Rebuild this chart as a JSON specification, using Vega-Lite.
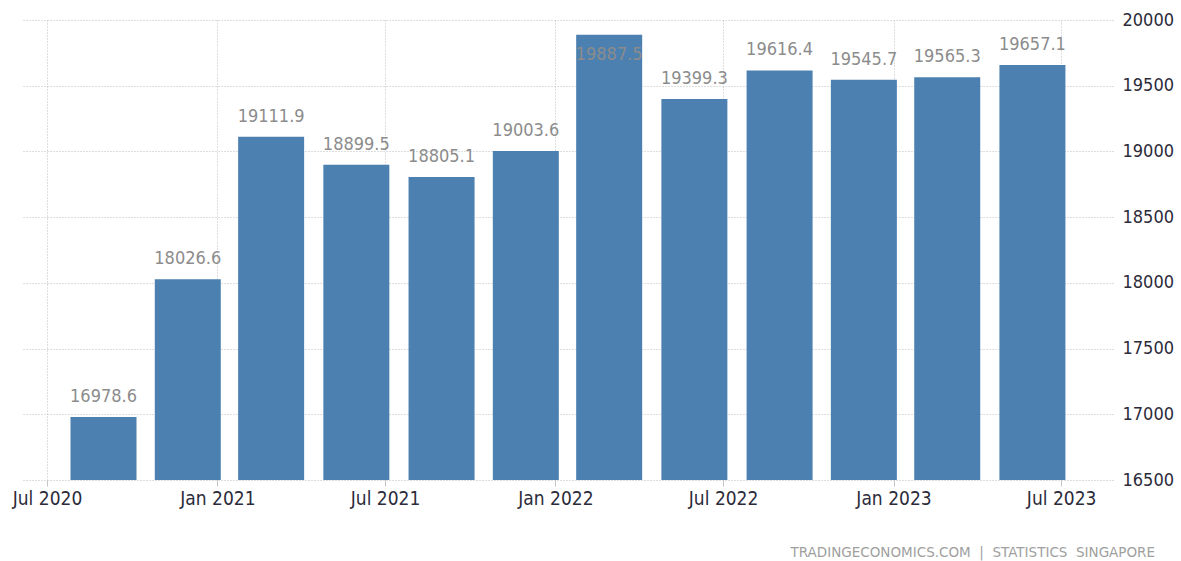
{
  "$schema": "https://vega.github.io/schema/vega-lite/v6.json",
  "width": 1091,
  "height": 460,
  "autosize": {"type": "none"},
  "padding": {"left": 22, "top": 20, "right": 68, "bottom": 81},
  "background": "white",
  "config": {"view": {"stroke": null}, "font": "DejaVu Sans Condensed"},
  "title": {
    "text": "TRADINGECONOMICS.COM\u00a0\u00a0|\u00a0\u00a0STATISTICS\u00a0\u00a0SINGAPORE",
    "orient": "bottom",
    "anchor": "end",
    "frame": "group",
    "dx": 42,
    "offset": 38,
    "font": "DejaVu Sans",
    "fontSize": 13.5,
    "fontWeight": "normal",
    "color": "#a0a0a0"
  },
  "data": {
    "values": [
      {"date": "2020-08-31", "value": 16978.6},
      {"date": "2020-11-30", "value": 18026.6},
      {"date": "2021-02-28", "value": 19111.9},
      {"date": "2021-05-31", "value": 18899.5},
      {"date": "2021-08-31", "value": 18805.1},
      {"date": "2021-11-30", "value": 19003.6},
      {"date": "2022-02-28", "value": 19887.5},
      {"date": "2022-05-31", "value": 19399.3},
      {"date": "2022-08-31", "value": 19616.4},
      {"date": "2022-11-30", "value": 19545.7},
      {"date": "2023-02-28", "value": 19565.3},
      {"date": "2023-05-31", "value": 19657.1}
    ]
  },
  "encoding": {
    "x": {
      "field": "date",
      "type": "temporal",
      "scale": {
        "type": "utc",
        "nice": false,
        "padding": 0,
        "domain": [
          {"year": 2020, "month": 6, "date": 4, "utc": true},
          {"year": 2023, "month": 8, "date": 26, "utc": true}
        ]
      },
      "axis": {
        "title": null,
        "values": [
          {"year": 2020, "month": 7, "date": 1, "utc": true},
          {"year": 2021, "month": 1, "date": 1, "utc": true},
          {"year": 2021, "month": 7, "date": 1, "utc": true},
          {"year": 2022, "month": 1, "date": 1, "utc": true},
          {"year": 2022, "month": 7, "date": 1, "utc": true},
          {"year": 2023, "month": 1, "date": 1, "utc": true},
          {"year": 2023, "month": 7, "date": 1, "utc": true}
        ],
        "labelExpr": "utcFormat(datum.value, '%b %Y')",
        "grid": true,
        "gridColor": "#bdbdbd",
        "gridDash": [1, 2],
        "domain": false,
        "ticks": true,
        "tickColor": "#c4c4c4",
        "tickSize": 6,
        "labelFontSize": 19,
        "labelColor": "#2b2b3a",
        "labelPadding": 3,
        "labelFlush": false,
        "labelOverlap": false
      }
    }
  },
  "layer": [
    {
      "mark": {"type": "bar", "size": 66, "color": "#4b80b0"},
      "encoding": {
        "y": {
          "field": "value",
          "type": "quantitative",
          "scale": {"domain": [16500, 20000], "zero": false, "nice": false},
          "axis": {
            "title": null,
            "orient": "right",
            "values": [16500, 17000, 17500, 18000, 18500, 19000, 19500, 20000],
            "format": "d",
            "grid": true,
            "gridColor": "#bdbdbd",
            "gridDash": [1, 2],
            "domain": false,
            "ticks": false,
            "labelPadding": 9,
            "labelFontSize": 18,
            "labelColor": "#2b2b3a"
          }
        },
        "y2": {"datum": 16500}
      }
    },
    {
      "transform": [{"filter": "datum.value < 19800"}],
      "mark": {"type": "text", "baseline": "alphabetic", "dy": -15, "fontSize": 18, "color": "#8c8c8c"},
      "encoding": {
        "y": {"field": "value", "type": "quantitative"},
        "text": {"field": "value", "type": "quantitative", "format": ".1f"}
      }
    },
    {
      "transform": [{"filter": "datum.value >= 19800"}],
      "mark": {"type": "text", "baseline": "alphabetic", "dy": 25, "fontSize": 18, "color": "#8c8c8c"},
      "encoding": {
        "y": {"field": "value", "type": "quantitative"},
        "text": {"field": "value", "type": "quantitative", "format": ".1f"}
      }
    }
  ]
}
